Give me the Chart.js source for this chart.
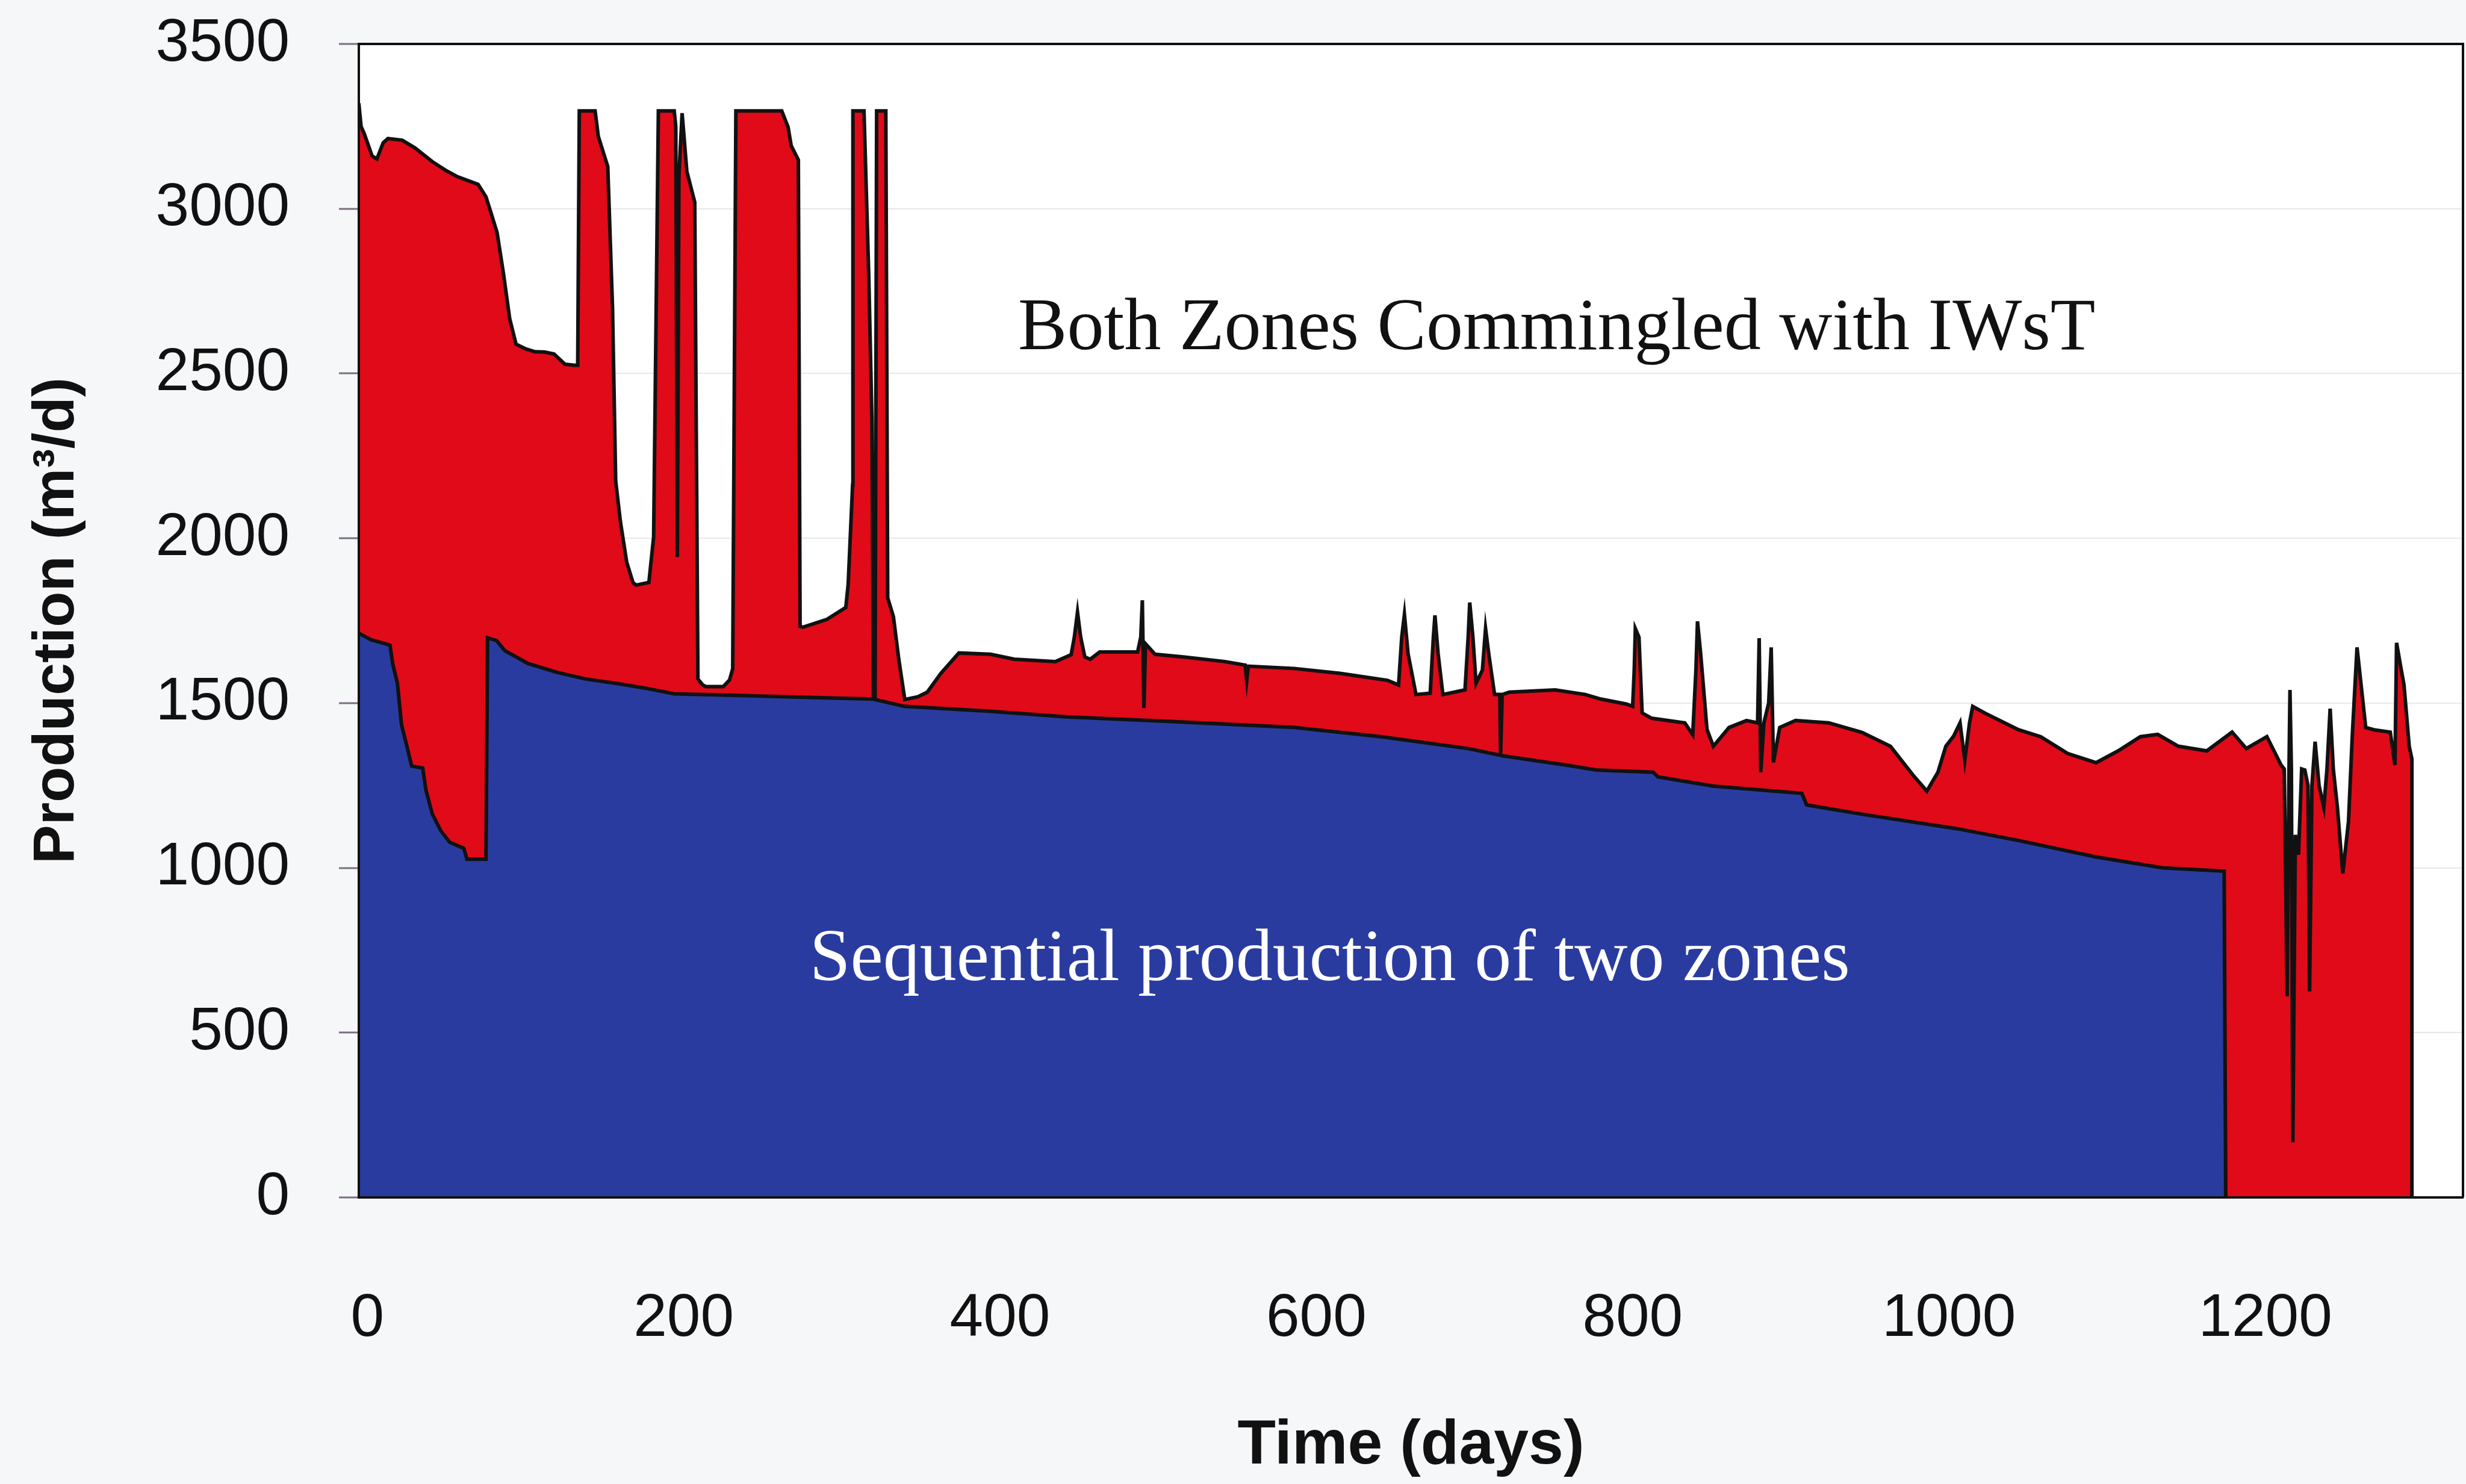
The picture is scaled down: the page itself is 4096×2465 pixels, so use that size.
<!DOCTYPE html>
<html>
<head>
<meta charset="utf-8">
<title>Production</title>
<script src="https://cdn.jsdelivr.net/npm/chart.js@4.4.1/dist/chart.umd.min.js"></script>
<style>
  html, body { margin: 0; padding: 0; background: #f6f7f9; }
  #wrap { width: 4096px; height: 2465px; position: relative; }
</style>
</head>
<body>
<div id="wrap"><canvas id="chart"></canvas></div>
<script>
const xTicks = [0, 200, 400, 600, 800, 1000, 1200];
const yTicks = [0, 500, 1000, 1500, 2000, 2500, 3000, 3500];

/* ── Both zones commingled with IWsT (red, total rate) ── */
const commingledDays = [
  -5.4, -4, -2, 3, 6, 10, 13, 22, 30, 41, 50, 57, 70, 75, 78, 82, 86, 90, 94, 100,
  106, 112, 118, 125, 131, 133, 134, 144, 146, 152, 155, 157, 160, 164, 168, 170, 178, 181, 184, 194,
  195, 196, 197, 199, 202, 207, 209, 212, 214, 225, 229, 231, 233, 262, 266, 268, 272.5, 273.6, 275.4, 290.6,
  302.5, 304, 306.8, 307, 314, 317, 319, 320, 321, 322, 327.8, 329, 332.6, 336, 339.8, 348, 354, 362.6, 374, 394,
  409, 435, 445, 447, 449, 451, 453.6, 457, 463, 487, 489, 490, 491, 492, 498, 516, 542, 555, 556, 557,
  586, 615, 645, 652, 654, 655.7, 658, 663, 672, 674, 675, 677, 680, 694, 696, 697, 699, 701, 705, 707,
  709, 712.7, 716, 716.5, 717.5, 722, 751, 770, 780, 796, 800, 801, 801.7, 804, 806, 812, 833, 838, 840, 841,
  843, 847, 851, 861, 872, 879, 880, 881, 883, 886, 887.6, 889, 893, 903, 924, 945, 963, 977, 986, 993,
  998, 1003, 1007, 1010, 1013, 1015, 1023, 1044, 1058, 1075, 1093, 1107, 1121, 1132, 1145, 1163, 1179, 1188, 1201, 1210,
  1212, 1213.8, 1215, 1215.6, 1216.5, 1217.4, 1219, 1221, 1223, 1225, 1227, 1228, 1229.5, 1231.5, 1234, 1237, 1239, 1241, 1243, 1245.6,
  1249, 1252.6, 1255, 1258, 1263.5, 1268.7, 1279, 1282, 1283, 1286, 1287.7, 1291, 1292.7, 1292.7
];
const commingledRate = [
  3320, 3250, 3228, 3160, 3151, 3200, 3213, 3208, 3185, 3143, 3115, 3097, 3074, 3036, 2990, 2928, 2805, 2666, 2589, 2575,
  2566, 2565, 2559, 2528, 2525, 2525, 3297, 3297, 3220, 3128, 2700, 2174, 2050, 1927, 1865, 1858, 1866, 2004, 3297, 3297,
  3250, 1943, 3100, 3290, 3113, 3020, 1573, 1555, 1550, 1550, 1570, 1604, 3297, 3297, 3248, 3191, 3148, 1733, 1730, 1754,
  1790, 1860, 2162, 3297, 3297, 2800, 2362, 1512, 1512, 3297, 3297, 1819, 1762, 1633, 1511, 1519, 1533, 1590, 1652, 1648,
  1633, 1626, 1647, 1700, 1776, 1700, 1640, 1633, 1655, 1655, 1700, 1812, 1485, 1680, 1648, 1640, 1626, 1615, 1568, 1612,
  1605, 1590, 1569, 1555, 1700, 1769, 1650, 1526, 1530, 1700, 1766, 1650, 1526, 1540, 1700, 1805, 1700, 1560, 1600, 1726,
  1650, 1526, 1526, 1340, 1526, 1533, 1540, 1526, 1512, 1497, 1490, 1600, 1726, 1700, 1470, 1454, 1440, 1404, 1600, 1748,
  1650, 1420, 1369, 1426, 1447, 1440, 1697, 1290, 1440, 1500, 1669, 1320, 1426, 1447, 1440, 1411, 1369, 1283, 1233, 1290,
  1369, 1400, 1440, 1326, 1440, 1490, 1469, 1419, 1398, 1347, 1319, 1355, 1398, 1405, 1369, 1355, 1412, 1362, 1398, 1312,
  1300, 610, 1300, 1540, 1300, 167, 1100, 1040, 1300, 1297, 1250, 625, 1250, 1383, 1250, 1183, 1300, 1483, 1300, 1183,
  983, 1140, 1400, 1669, 1426, 1419, 1412, 1312, 1683, 1600, 1555, 1369, 1330, 0
];

/* ── Sequential production of two zones (blue) ── */
const sequentialDays = [
  -5.4, 2.4, 14.3, 16, 19, 21.6, 25, 28, 35, 37, 41, 46.5, 52, 61, 63, 75, 76, 81.6, 87, 94,
  101.6, 120, 138, 157, 175, 194, 221, 280, 320, 339.5, 391, 442, 508.6, 585.8, 641, 696, 718, 759, 777, 813,
  816, 851, 907, 910, 946, 1005, 1044, 1093, 1135, 1174, 1175
];
const sequentialRate = [
  1712, 1692, 1676, 1620, 1560, 1434, 1369, 1309, 1303, 1237, 1164, 1112, 1078, 1059, 1026, 1026, 1698, 1690, 1659, 1640,
  1620, 1593, 1573, 1560, 1546, 1528, 1525, 1517, 1512, 1490, 1476, 1458, 1444, 1426, 1398, 1362, 1340, 1311, 1297, 1290,
  1276, 1248, 1226, 1191, 1162, 1119, 1083, 1033, 1000, 990, 0
];

const notes = [
  { text: 'Both Zones Commingled with IWsT', day: 752, rate: 2574, color: '#111111' },
  { text: 'Sequential production of two zones', day: 608.5, rate: 659, color: '#ffffff' }
];

const toPoints = (xs, ys) => xs.map((x, i) => ({ x: x, y: ys[i] }));

/* ── Frame, plot background and in-plot labels ── */
const framePlugin = {
  id: 'frame',
  beforeDraw(chart) {
    const { ctx, chartArea: a } = chart;
    ctx.save();
    ctx.fillStyle = '#f6f7f9';
    ctx.fillRect(0, 0, chart.width, chart.height);
    ctx.fillStyle = '#ffffff';
    ctx.fillRect(a.left, a.top, a.right - a.left, a.bottom - a.top);
    ctx.restore();
  },
  afterDatasetsDraw(chart) {
    const { ctx, chartArea: a, scales } = chart;
    ctx.save();
    ctx.strokeStyle = '#111';
    ctx.lineWidth = 4;
    ctx.beginPath();
    ctx.moveTo(a.left, a.top);
    ctx.lineTo(a.right, a.top);
    ctx.lineTo(a.right, a.bottom);
    ctx.stroke();
    ctx.font = '122px "Liberation Serif", "Times New Roman", serif';
    ctx.textAlign = 'center';
    ctx.textBaseline = 'alphabetic';
    notes.forEach(n => {
      ctx.fillStyle = n.color;
      ctx.fillText(n.text, scales.x.getPixelForValue(n.day), scales.y.getPixelForValue(n.rate));
    });
    ctx.restore();
  }
};

Chart.defaults.font.family = '"Liberation Sans", Arial, Helvetica, sans-serif';
Chart.defaults.color = '#111';

new Chart(document.getElementById('chart'), {
  type: 'line',
  data: {
    datasets: [
      {
        label: 'Sequential production of two zones',
        data: toPoints(sequentialDays, sequentialRate),
        order: 0,
        fill: 'origin',
        backgroundColor: '#2a3ba0',
        borderColor: '#111',
        borderWidth: 6,
        pointRadius: 0,
        tension: 0
      },
      {
        label: 'Both Zones Commingled with IWsT',
        data: toPoints(commingledDays, commingledRate),
        order: 1,
        fill: 'origin',
        backgroundColor: '#e10a19',
        borderColor: '#111',
        borderWidth: 6,
        pointRadius: 0,
        tension: 0
      }
    ]
  },
  options: {
    responsive: true,
    maintainAspectRatio: false,
    animation: false,
    devicePixelRatio: 1,
    layout: { padding: { top: 73, right: 5, left: 0, bottom: 0 } },
    plugins: { legend: { display: false }, tooltip: { enabled: false } },
    scales: {
      x: {
        type: 'linear',
        min: -5.4,
        max: 1325,
        afterBuildTicks: s => { s.ticks = xTicks.map(v => ({ value: v })); },
        afterFit: s => { s.height = 476; s.paddingLeft = 0; s.paddingRight = 0; },
        grid: { display: false, drawTicks: false },
        border: { display: true, color: '#111', width: 4, z: 1 },
        ticks: { padding: 142, autoSkip: false, maxRotation: 0, font: { size: 100 }, callback: v => String(v) },
        title: {
          display: true, text: 'Time (days)',
          font: { size: 104, weight: 'bold' },
          padding: { top: 0, bottom: 0 }
        }
      },
      y: {
        min: 0,
        max: 3500,
        afterBuildTicks: s => { s.ticks = yTicks.map(v => ({ value: v })); },
        afterFit: s => { s.width = 596; s.paddingTop = 0; s.paddingBottom = 0; },
        grid: {
          color: 'rgba(200,200,215,0.45)', lineWidth: 2,
          drawTicks: true, tickLength: 33, tickColor: '#7a6f80', tickWidth: 3
        },
        border: { display: true, color: '#111', width: 4, z: 1 },
        ticks: { padding: 82, font: { size: 100 }, callback: v => String(v) },
        title: {
          display: true, text: 'Production (m³/d)',
          font: { size: 97, weight: 'bold' },
          padding: { top: 37, bottom: 0 }
        }
      }
    }
  },
  plugins: [framePlugin]
});
</script>
</body>
</html>
